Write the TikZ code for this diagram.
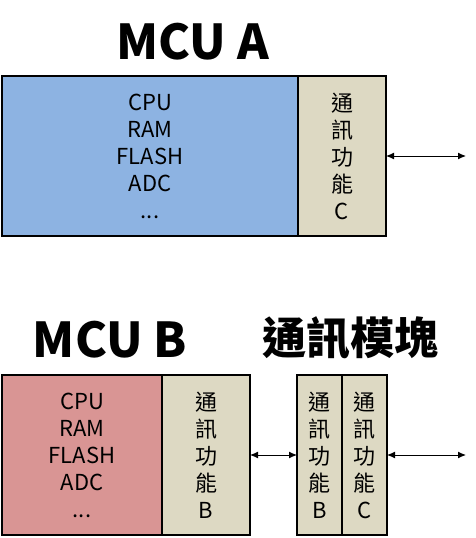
\documentclass[tikz,border=0pt]{standalone}
\usepackage{fontspec}
\setmainfont{Noto Sans CJK TC}
\usepackage{tikz}
\usetikzlibrary{arrows.meta,positioning}

\definecolor{coreblue}{HTML}{8DB3E2}
\definecolor{corered}{HTML}{D99594}
\definecolor{commbeige}{HTML}{DDD9C3}

\begin{document}
\begin{tikzpicture}[x=1pt, y=-1pt, every node/.style={font=\fontsize{22}{27}\selectfont}]
    \tikzstyle{unit} = [rectangle, draw=black, line width=1.8pt, outer sep=0pt,
        minimum height=160pt, align=center, inner sep=0pt]
    \tikzstyle{core} = [unit, anchor=north west]
    \tikzstyle{comm} = [unit, fill=commbeige]
    \tikzstyle{title} = [font=\bfseries\fontsize{48}{50}\selectfont]
    \tikzstyle{link} = [{Latex[length=8pt,width=7pt]}-{Latex[length=8pt,width=7pt]}, line width=1pt]
    \useasboundingbox (0,0) rectangle (475,538);

    % MCU A
    \node (titleA) [title] at (193,42) {MCU A};
    \node (coreA) [core, fill=coreblue, minimum width=296pt] at (2,76) {CPU\\RAM\\FLASH\\ADC\\...};
    \node (commA) [comm, minimum width=88pt, right=0pt of coreA] {通\\訊\\功\\能\\C};
    \coordinate (outA) at (466,156);

    % MCU B + module
    \node (titleB) [title] at (110,340) {MCU B};
    \node (titleM) [title, font=\bfseries\fontsize{44}{50}\selectfont] at (350,338) {通訊模塊};
    \node (coreB) [core, fill=corered, minimum width=160pt] at (2,375) {CPU\\RAM\\FLASH\\ADC\\...};
    \node (commB) [comm, minimum width=88pt, right=0pt of coreB] {通\\訊\\功\\能\\B};
    \node (modB) [comm, minimum width=45pt, anchor=north west] at (297,375) {通\\訊\\功\\能\\B};
    \node (modC) [comm, minimum width=45pt, right=0pt of modB] {通\\訊\\功\\能\\C};
    \coordinate (outB) at (466,455);

    \draw [link] (commA.east) -- (outA);
    \draw [link] (commB.east) -- (modB.west);
    \draw [link] (modC.east) -- (outB);
\end{tikzpicture}
\end{document}
